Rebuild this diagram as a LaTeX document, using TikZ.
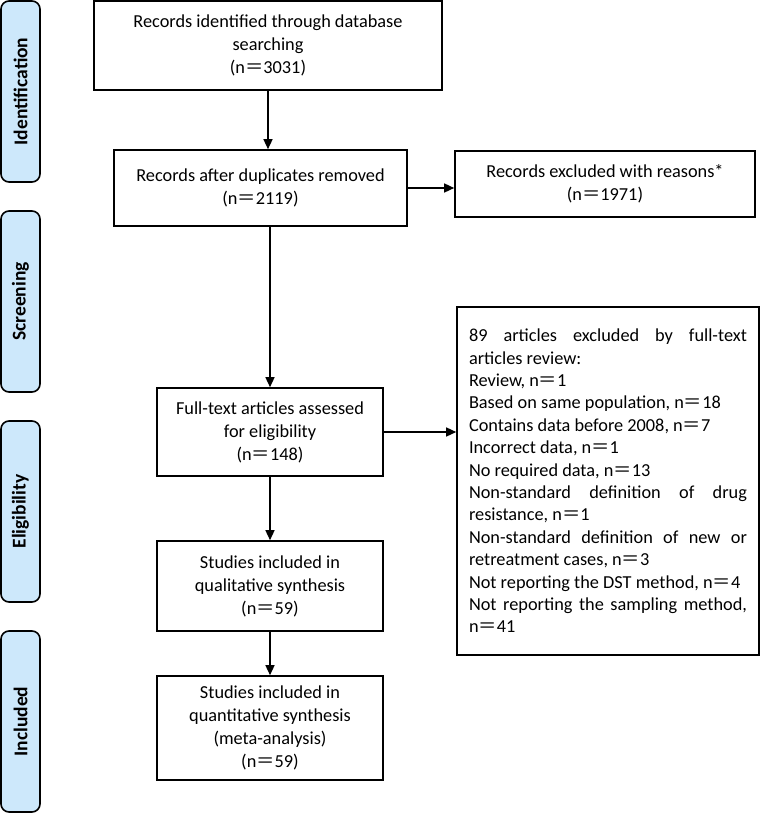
\documentclass[tikz,border=0pt]{standalone}
\usepackage{fontspec}
\setmainfont{Carlito}
\newfontfamily\cjk{Noto Sans CJK SC}
\newcommand{\eqw}{{\cjk ＝}}
\usetikzlibrary{arrows.meta}
\definecolor{sideblue}{HTML}{CDE8FB}
\begin{document}
\begin{tikzpicture}[x=1pt,y=-1pt,
  box/.style={draw, line width=1.6pt, align=center, inner sep=0pt,
    font=\fontsize{18.3}{23}\selectfont},
  side/.style={draw, line width=1.6pt, rounded corners=8pt, fill=sideblue,
    rotate=90, minimum width=181pt, minimum height=39pt, inner sep=0pt,
    font=\fontsize{19.5}{22}\selectfont\bfseries},
  arr/.style={-{Triangle[length=10pt,width=9pt]}, line width=1.4pt}]
\useasboundingbox (0,0) rectangle (760,813);
% side labels
\node[side] (s1) at (20.5,91.5) {Identification};
\node[side] (s2) at (20.5,301.5) {Screening};
\node[side] (s3) at (20.5,511.5) {Eligibility};
\node[side] (s4) at (20.5,721.5) {Included};
% boxes
\node[box, minimum width=348pt, minimum height=89pt] (b1) at (268,45.5)
  {Records identified through database\\searching\\(n\eqw3031)};
\node[box, minimum width=293pt, minimum height=76pt] (b2) at (260.5,188)
  {Records after duplicates removed\\(n\eqw2119)};
\node[box, minimum width=300pt, minimum height=66pt] (b3) at (605,184)
  {Records excluded with reasons*\\(n\eqw1971)};
\node[box, minimum width=226pt, minimum height=88pt] (b4) at (270,432)
  {Full-text articles assessed\\for eligibility\\(n\eqw148)};
\node[box, minimum width=302pt, minimum height=348pt, text width=278pt,
  align=justify, font=\fontsize{18.3}{22.4}\selectfont] (b5) at (608,481)
  {\hyphenpenalty=10000 89 articles excluded by full-text\linebreak
  articles review:\\
  Review, n\eqw1\\
  Based on same population, n\eqw18\\
  Contains data before 2008, n\eqw7\\
  Incorrect data, n\eqw1\\
  No required data, n\eqw13\\
  Non-standard definition of drug\linebreak
  resistance, n\eqw1\\
  Non-standard definition of new or\linebreak
  retreatment cases, n\eqw3\\
  Not reporting the DST method, n\eqw4\\
  Not reporting the sampling method,\linebreak
  n\eqw41};
\node[box, minimum width=226pt, minimum height=90pt] (b6) at (270,586)
  {Studies included in\\qualitative synthesis\\(n\eqw59)};
\node[box, minimum width=226pt, minimum height=104pt] (b7) at (270,728)
  {Studies included in\\quantitative synthesis\\(meta-analysis)\\(n\eqw59)};
% arrows
\draw[arr] (b1.south) -- (b1.south |- b2.north);
\draw[arr] (b2.east) -- (b2.east -| b3.west);
\draw[arr] (b4.north |- b2.south) -- (b4.north);
\draw[arr] (b4.east) -- (b4.east -| b5.west);
\draw[arr] (b4.south) -- (b6.north);
\draw[arr] (b6.south) -- (b7.north);
\end{tikzpicture}
\end{document}
